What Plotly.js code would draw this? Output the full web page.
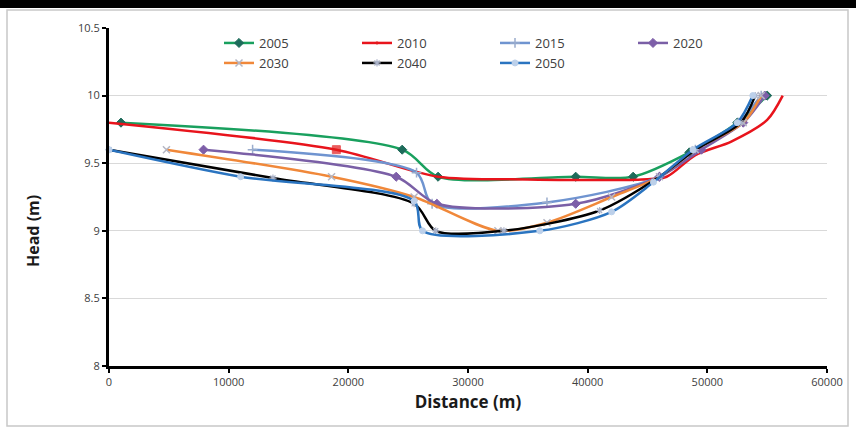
<!DOCTYPE html>
<html>
<head>
<meta charset="utf-8">
<script src="https://cdn.plot.ly/plotly-3.0.1.min.js"></script>
<style>
  html, body { margin: 0; padding: 0; background: #ffffff; }
  #chart { width: 856px; height: 428px; }
</style>
</head>
<body>
<div id="chart"></div>
<script>
// ---- Data ----
const years = ['2005', '2010', '2015', '2020', '2030', '2040', '2050'];

const x2005 = [1000, 24500, 27500, 39000, 43800, 48500, 52500, 55000];
const y2005 = [9.8, 9.6, 9.4, 9.4, 9.4, 9.58, 9.8, 10.0];

const x2010 = [0, 19000, 27500, 35000, 44500, 46600, 49000, 52000, 55000, 56300];
const y2010 = [9.8, 9.6, 9.4, 9.38, 9.38, 9.4, 9.56, 9.66, 9.82, 10.0];

const x2015 = [12000, 25700, 27000, 36600, 46000, 49000, 52600, 54500];
const y2015 = [9.6, 9.43, 9.2, 9.21, 9.4, 9.6, 9.8, 10.0];

const x2020 = [7900, 24000, 27400, 39000, 46000, 49500, 53000, 54800];
const y2020 = [9.6, 9.4, 9.2, 9.2, 9.4, 9.6, 9.8, 10.0];

const x2030 = [4800, 18600, 25500, 32500, 36600, 42000, 46000, 49000, 53000, 54500];
const y2030 = [9.6, 9.4, 9.25, 9.0, 9.06, 9.25, 9.4, 9.6, 9.8, 10.0];

const x2040 = [0, 13700, 25500, 27300, 33000, 41000, 46000, 49000, 52800, 54000];
const y2040 = [9.6, 9.39, 9.2, 9.0, 9.0, 9.15, 9.4, 9.6, 9.8, 10.0];

const x2050 = [0, 11000, 25500, 26200, 36000, 42000, 45500, 48800, 52500, 53800];
const y2050 = [9.6, 9.4, 9.22, 9.0, 9.0, 9.14, 9.36, 9.6, 9.8, 10.0];

const xTicks = [0, 10000, 20000, 30000, 40000, 50000, 60000];
const yTicks = [8, 8.5, 9, 9.5, 10, 10.5];
const yTickText = ['8', '8.5', '9', '9.5', '10', '10.5'];

// ---- Styles ----
const xs = [x2005, x2010, x2015, x2020, x2030, x2040, x2050];
const ys = [y2005, y2010, y2015, y2020, y2030, y2040, y2050];
const lineColors = ['#19a05e', '#e8141c', '#6f94d0', '#7a5fa6', '#f0883a', '#000000', '#2a74c0'];
const markerSymbols = ['diamond', 'square', 'cross-thin-open', 'diamond', 'x-thin-open', 'asterisk-open', 'circle'];
const markerColors = ['#1d6b5a', '#e31a1c', '#9aaccc', '#7d5ea8', '#b4b6c4', '#aab2c8', '#bcd0ea'];
const markerSizes = [7, 7, 7, 7, 7, 6, 6];
const markerLineW = [1, 1, 1.5, 1, 1.5, 1.2, 1];

const traces = years.map((yr, i) => {
  let size = markerSizes[i];
  if (yr === '2010') {
    // only the square near 19000 m is visible in the reference
    size = xs[i].map((v, k) => (k === 1 ? 8 : 0));
  }
  return {
    x: xs[i],
    y: ys[i],
    name: yr,
    type: 'scatter',
    mode: 'lines+markers',
    line: { color: lineColors[i], width: 2.5, shape: 'spline', smoothing: 0.8 },
    marker: {
      symbol: markerSymbols[i],
      color: markerColors[i],
      size: size,
      line: { color: markerColors[i], width: markerLineW[i] }
    },
    legend: i < 4 ? 'legend' : 'legend2',
    cliponaxis: false
  };
});

// pixel -> paper helpers (plot area: x 109..827, y 28..366)
const L = 109, R = 827, T = 28, B = 366;
const px = p => (p - L) / (R - L);
const py = p => (B - p) / (B - T);

const legendCommon = {
  orientation: 'h',
  xanchor: 'left',
  yanchor: 'middle',
  bgcolor: 'rgba(0,0,0,0)',
  font: { family: 'Open Sans, sans-serif', size: 13, color: '#404040' },
  entrywidth: 93,
  entrywidthmode: 'pixels',
  itemclick: false
};

const layout = {
  width: 856,
  height: 428,
  margin: { l: L, r: 856 - R, t: T, b: 428 - B },
  paper_bgcolor: '#ffffff',
  plot_bgcolor: '#ffffff',
  showlegend: true,
  legend: Object.assign({}, legendCommon, { x: px(219), y: py(43) }),
  legend2: Object.assign({}, legendCommon, { x: px(219), y: py(63) }),
  xaxis: {
    range: [0, 60000],
    tickvals: xTicks,
    ticktext: xTicks.map(String),
    showgrid: false,
    zeroline: false,
    showline: true,
    linecolor: '#000000',
    linewidth: 3,
    ticks: 'outside',
    ticklen: 4,
    tickwidth: 2,
    tickcolor: '#000000',
    tickfont: { family: 'Open Sans, sans-serif', size: 11, color: '#404040' },
    title: { text: 'Distance (m)', font: { family: 'Open Sans, sans-serif', size: 17, color: '#1a1a1a', weight: 'bold' }, standoff: 8 }
  },
  yaxis: {
    range: [8, 10.5],
    tickvals: yTicks,
    ticktext: yTickText,
    showgrid: true,
    gridcolor: '#d9d9d9',
    gridwidth: 1,
    zeroline: false,
    showline: true,
    linecolor: '#000000',
    linewidth: 3,
    ticks: 'outside',
    ticklen: 4,
    tickwidth: 2,
    tickcolor: '#000000',
    tickfont: { family: 'Open Sans, sans-serif', size: 11, color: '#404040' }
  },
  annotations: [{
    text: '<b>Head (m)</b>',
    xref: 'paper', yref: 'paper',
    x: px(33), y: py(231),
    xanchor: 'center', yanchor: 'middle',
    textangle: -90,
    showarrow: false,
    font: { family: 'Open Sans, sans-serif', size: 16, color: '#1a1a1a' }
  }],
  shapes: [
    { type: 'rect', xref: 'paper', yref: 'paper', x0: px(0), x1: px(856), y0: py(0), y1: py(8),
      fillcolor: '#000000', line: { width: 0 }, layer: 'above' },
    { type: 'rect', xref: 'paper', yref: 'paper', x0: px(7), x1: px(848), y0: py(10), y1: py(426),
      fillcolor: 'rgba(0,0,0,0)', line: { color: '#c8c8c8', width: 1.5 }, layer: 'below' }
  ]
};

Plotly.newPlot('chart', traces, layout, { displayModeBar: false, staticPlot: true });
</script>
</body>
</html>
